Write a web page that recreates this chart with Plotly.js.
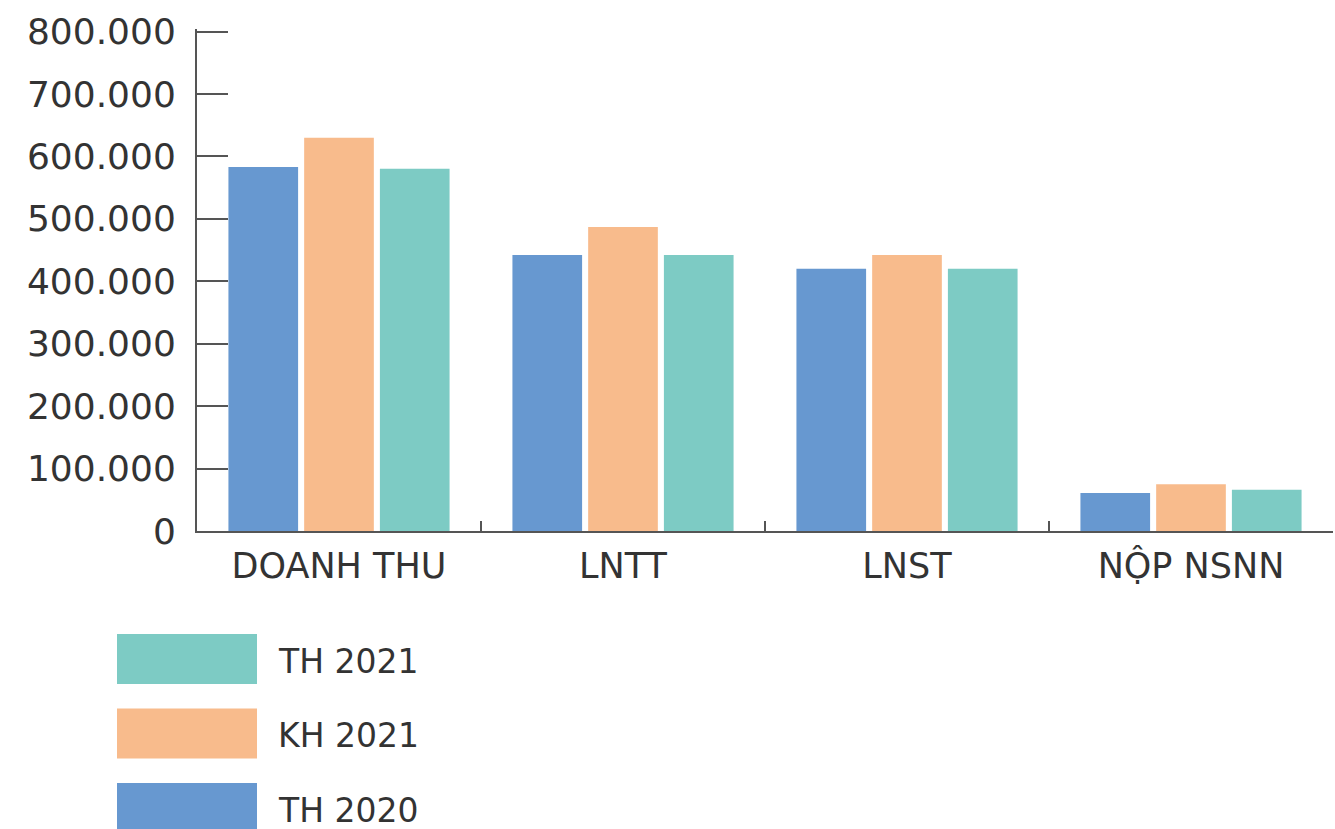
<!DOCTYPE html>
<html>
<head>
<meta charset="utf-8">
<script src="https://cdn.plot.ly/plotly-3.0.1.min.js"></script>
<style>html,body{margin:0;padding:0;background:#fff;}#chart{width:1335px;height:829px;}</style>
</head>
<body>
<div id="chart"></div>
<script>
const categories = ["DOANH THU", "LNTT", "LNST", "NỘP NSNN"];
const seriesNames = ["TH 2020", "KH 2021", "TH 2021"];
const th2020 = [583000, 442000, 420000, 61000];
const kh2021 = [630000, 487000, 442000, 75000];
const th2021 = [580000, 442000, 420000, 66000];
const yTickVals = [0, 100000, 200000, 300000, 400000, 500000, 600000, 700000, 800000];
const yTickText = ["0", "100.000", "200.000", "300.000", "400.000", "500.000", "600.000", "700.000", "800.000"];

const colors = ["#6798D0", "#F8BB8C", "#7DCBC4"];
const values = [th2020, kh2021, th2021];
const FONT = "DejaVu Sans";
const W = 1335, H = 829;
const M = {l: 197, r: 2, t: 29, b: 298};
const pw = W - M.l - M.r, ph = H - M.t - M.b;
const px2x = p => (p - M.l) / pw;
const py2y = p => (H - M.b - p) / ph;

const traces = seriesNames.map((n, i) => ({
  type: "bar", name: n, x: categories, y: values[i],
  marker: {color: colors[i]}, hoverinfo: "x+y+name"
}));

// custom legend (top to bottom: TH 2021, KH 2021, TH 2020)
const legendOrder = [2, 1, 0];
const shapes = [], annotations = [];
legendOrder.forEach((si, k) => {
  const top = 634 + k * 74.5;
  shapes.push({type: "rect", xref: "paper", yref: "paper",
    x0: px2x(117), x1: px2x(257), y0: py2y(top + 50), y1: py2y(top),
    fillcolor: colors[si], line: {width: 0}});
  annotations.push({xref: "paper", yref: "paper", x: px2x(276), y: py2y(top + 27),
    xanchor: "left", yanchor: "middle", showarrow: false, text: seriesNames[si],
    font: {family: FONT, size: 33, color: "#333"}});
});

const layout = {
  width: W, height: H, margin: M, paper_bgcolor: "#fff", plot_bgcolor: "#fff",
  showlegend: false, barmode: "group", bargap: 0.2, bargroupgap: 0.08,
  font: {family: FONT, color: "#333"},
  xaxis: {type: "category", range: [-0.5, 3.5], showline: true, linecolor: "#555", linewidth: 2,
    ticks: "inside", tickson: "boundaries", ticklen: 10, tickwidth: 2, tickcolor: "#555",
    showgrid: false, zeroline: false, tickfont: {family: FONT, size: 35, color: "#333"},
    ticklabelstandoff: 3},
  yaxis: {range: [0, 804000], showline: true, linecolor: "#555", linewidth: 2,
    ticks: "inside", ticklen: 31, tickwidth: 2, tickcolor: "#555",
    tickvals: yTickVals, ticktext: yTickText, showgrid: false, zeroline: false,
    tickfont: {family: FONT, size: 36, color: "#333"}, ticklabelstandoff: 12},
  shapes: shapes, annotations: annotations
};
Plotly.newPlot("chart", traces, layout, {displayModeBar: false, staticPlot: true});
</script>
</body>
</html>
